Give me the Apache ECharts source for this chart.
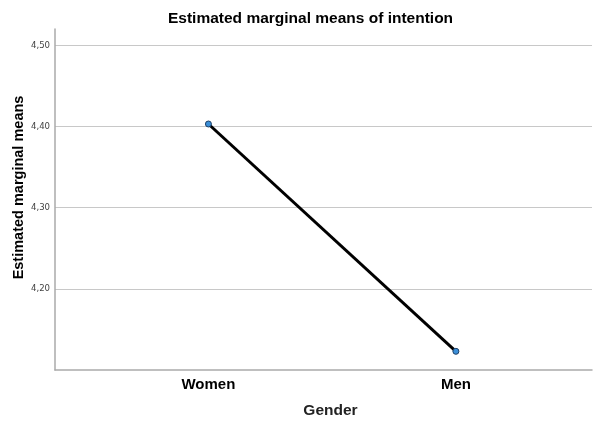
<!DOCTYPE html>
<html>
<head>
<meta charset="utf-8">
<title>Estimated marginal means of intention</title>
<script src="https://cdn.jsdelivr.net/npm/echarts@6/dist/echarts.min.js"></script>
<style>
  html, body { margin: 0; padding: 0; background: #fff; }
  #chart { width: 598px; height: 421px; }
</style>
</head>
<body>
<div id="chart"></div>
<script>
// data
var categories = ['Women', 'Men'];
var means = [4.403, 4.123];
var yTicks = [4.2, 4.3, 4.4, 4.5];

var chart = echarts.init(document.getElementById('chart'));

// x is a value axis so the two groups can sit with SPSS-like padding
var points = means.map(function (v, i) { return [i, v]; });

chart.setOption({
    animation: false,
    title: {
        text: 'Estimated marginal means of intention',
        left: 163,
        top: 6,
        textStyle: { fontFamily: 'Liberation Sans', fontSize: 15.5, fontWeight: 'bold', color: '#000' }
    },
    grid: { left: 55, right: 6, top: 29, bottom: 51, outerBoundsMode: 'none' },
    xAxis: {
        type: 'value',
        min: -0.62,
        max: 1.55,
        name: 'Gender',
        nameLocation: 'middle',
        nameGap: 33,
        nameTextStyle: { fontFamily: 'Liberation Sans', fontSize: 15.5, fontWeight: 'bold', color: '#222', padding: [0, 0, 0, 14] },
        axisLine: { show: true, onZero: false, lineStyle: { color: '#aaa', width: 1.5 } },
        axisTick: { show: false },
        splitLine: { show: false },
        axisLabel: {
            customValues: [0, 1],
            margin: 7,
            fontFamily: 'Liberation Sans', fontSize: 15, fontWeight: 'bold', color: '#000',
            formatter: function (v) { return categories[Math.round(v)] || ''; }
        }
    },
    yAxis: {
        type: 'value',
        min: 4.1,
        max: 4.52,
        interval: 0.1,
        name: 'Estimated marginal means',
        nameLocation: 'middle',
        nameGap: 29,
        nameMoveOverlap: false,
        nameTextStyle: { fontFamily: 'Liberation Sans', fontSize: 14.5, fontWeight: 'bold', color: '#000', padding: [0, 0, 0, 24] },
        axisLine: { show: true, onZero: false, lineStyle: { color: '#aaa', width: 1.5 } },
        axisTick: { show: false },
        splitLine: { show: true, showMinLine: false, showMaxLine: false, lineStyle: { color: '#c8c8c8', width: 1.2 } },
        axisLabel: {
            margin: 5,
            fontFamily: 'DejaVu Sans Condensed', fontSize: 9.5, color: '#444',
            formatter: function (v) {
                for (var i = 0; i < yTicks.length; i++) {
                    if (Math.abs(v - yTicks[i]) < 1e-6) return yTicks[i].toFixed(2).replace('.', ',');
                }
                return '';
            }
        }
    },
    series: [{
        type: 'line',
        data: points,
        symbol: 'circle',
        symbolSize: 6,
        lineStyle: { color: '#000', width: 3 },
        itemStyle: { color: '#3b8fd8', borderColor: '#1d3f66', borderWidth: 1 },
        z: 3
    }]
});
</script>
</body>
</html>
